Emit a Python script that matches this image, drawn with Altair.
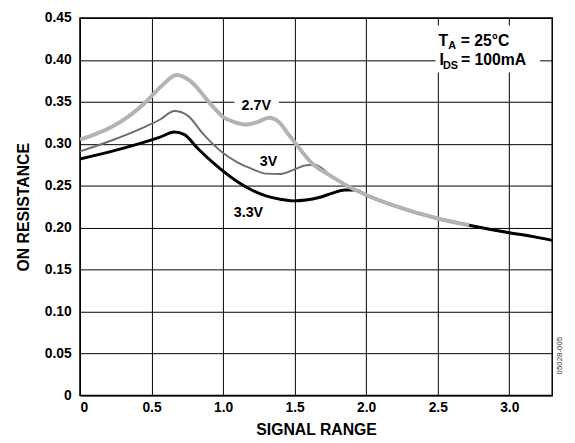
import altair as alt
import pandas as pd

# ---- data ----
x_27 = [0, 0.1, 0.22, 0.35, 0.45, 0.57, 0.675, 0.77, 0.91, 1.0, 1.08, 1.16, 1.24, 1.32, 1.39, 1.45, 1.5, 1.62, 1.76, 1.9, 2.0, 2.2, 2.5, 2.72]
y_27 = [0.305, 0.311, 0.320, 0.334, 0.348, 0.369, 0.382, 0.375, 0.348, 0.332, 0.326, 0.323, 0.326, 0.331, 0.326, 0.313, 0.302, 0.277, 0.261, 0.247, 0.239, 0.226, 0.211, 0.203]

x_30 = [0, 0.22, 0.45, 0.56, 0.66, 0.75, 0.865, 1.0, 1.1, 1.19, 1.3, 1.4, 1.5, 1.58, 1.64, 1.76, 1.9, 2.0, 2.2, 2.5, 2.72, 3.0, 3.3]
y_30 = [0.291, 0.304, 0.320, 0.329, 0.339, 0.334, 0.311, 0.289, 0.278, 0.271, 0.2645, 0.264, 0.2695, 0.2745, 0.275, 0.261, 0.247, 0.239, 0.226, 0.211, 0.203, 0.194, 0.185]

x_33 = [0, 0.22, 0.45, 0.56, 0.66, 0.73, 0.82, 0.96, 1.09, 1.2, 1.3, 1.4, 1.49, 1.58, 1.67, 1.76, 1.85, 1.92, 2.0, 2.2, 2.5, 2.72, 3.0, 3.15, 3.3]
y_33 = [0.282, 0.291, 0.302, 0.308, 0.314, 0.311, 0.295, 0.273, 0.256, 0.245, 0.238, 0.234, 0.232, 0.233, 0.236, 0.241, 0.245, 0.245, 0.239, 0.226, 0.211, 0.203, 0.194, 0.190, 0.185]

x_ticks = [0, 0.5, 1.0, 1.5, 2.0, 2.5, 3.0]
y_ticks = [0, 0.05, 0.10, 0.15, 0.20, 0.25, 0.30, 0.35, 0.40, 0.45]

curve_labels = ["2.7V", "3V", "3.3V"]
curve_label_x = [1.232, 1.318, 1.177]
curve_label_y = [0.3455, 0.2785, 0.2174]

note_text = ["T", "A", "= 25°C", "I", "DS", "= 100mA"]
note_x = [2.505, 2.574, 2.66, 2.512, 2.537, 2.662]
note_y = [0.4166, 0.4131, 0.4166, 0.3942, 0.3895, 0.3942]
note_size = [16, 11, 16, 16, 11, 16]

FONT = "Liberation Sans"

df = pd.concat([
    pd.DataFrame({"x": x_30, "y": y_30, "s": "3V"}),
    pd.DataFrame({"x": x_33, "y": y_33, "s": "3.3V"}),
    pd.DataFrame({"x": x_27, "y": y_27, "s": "2.7V"}),
])

xs = alt.Scale(domain=[0, 3.3], nice=False, zero=False)
ys = alt.Scale(domain=[0, 0.45], nice=False)

xenc = alt.X("x:Q", scale=xs, axis=alt.Axis(
    values=x_ticks, title="SIGNAL RANGE",
    labelExpr="datum.value == 0 ? '0' : format(datum.value, '.1f')"))
yenc = alt.Y("y:Q", scale=ys, axis=alt.Axis(
    values=y_ticks, title="ON RESISTANCE",
    labelExpr="datum.value == 0 ? '0' : format(datum.value, '.2f')"))

def line(name, color, width):
    return alt.Chart(df[df.s == name]).mark_line(
        color=color, strokeWidth=width, interpolate="monotone", clip=True
    ).encode(x=xenc, y=yenc, order="x:Q")

# white boxes behind annotations
boxes = pd.DataFrame({"x": [2.485, 1.08], "x2": [3.215, 1.39],
                      "y": [0.441, 0.3566], "y2": [0.385, 0.3355]})
box = alt.Chart(boxes).mark_rect(color="white").encode(
    x=alt.X("x:Q", scale=xs), x2="x2:Q", y=alt.Y("y:Q", scale=ys), y2="y2:Q")

lab = alt.Chart(pd.DataFrame({"t": curve_labels, "x": curve_label_x, "y": curve_label_y})).mark_text(
    font=FONT, fontWeight="bold", fontSize=14.5, color="black", align="center", baseline="middle"
).encode(x=alt.X("x:Q", scale=xs), y=alt.Y("y:Q", scale=ys), text="t:N")

notes = alt.Chart(pd.DataFrame({"t": note_text, "x": note_x, "y": note_y, "sz": note_size})).mark_text(
    font=FONT, fontWeight="bold", color="black", align="left", baseline="alphabetic"
).encode(x=alt.X("x:Q", scale=xs), y=alt.Y("y:Q", scale=ys), text="t:N",
         size=alt.Size("sz:Q", scale=None, legend=None))

code = alt.Chart(pd.DataFrame({"t": ["05028-005"], "x": [3.352], "y": [0.0476]})).mark_text(
    font=FONT, fontSize=8, color="#333333", angle=270, align="center", baseline="middle"
).encode(x=alt.X("x:Q", scale=xs), y=alt.Y("y:Q", scale=ys), text="t:N")

chart = alt.layer(
    box,
    line("3V", "#6e6e6e", 2),
    line("3.3V", "#000000", 3),
    line("2.7V", "#b3b3b3", 4),
    lab, notes, code
).properties(
    width=479, height=383,
    autosize=alt.AutoSizeParams(type="none"),
    padding={"left": 73, "top": 7, "right": 15, "bottom": 45},
    background="white"
).configure_view(
    stroke="black", strokeWidth=1.5
).configure_axis(
    grid=True, gridColor="black", gridWidth=1, gridOpacity=1,
    ticks=False, domain=False,
    labelFont=FONT, labelFontWeight="bold", labelFontSize=14, labelColor="black",
    titleFont=FONT, titleFontWeight="bold", titleFontSize=16, titleColor="black",
).configure_axisX(
    labelPadding=5, titlePadding=7
).configure_axisY(
    labelPadding=9, titlePadding=13
)

chart.save("out.html", embed_options={"renderer": "svg", "actions": False})
